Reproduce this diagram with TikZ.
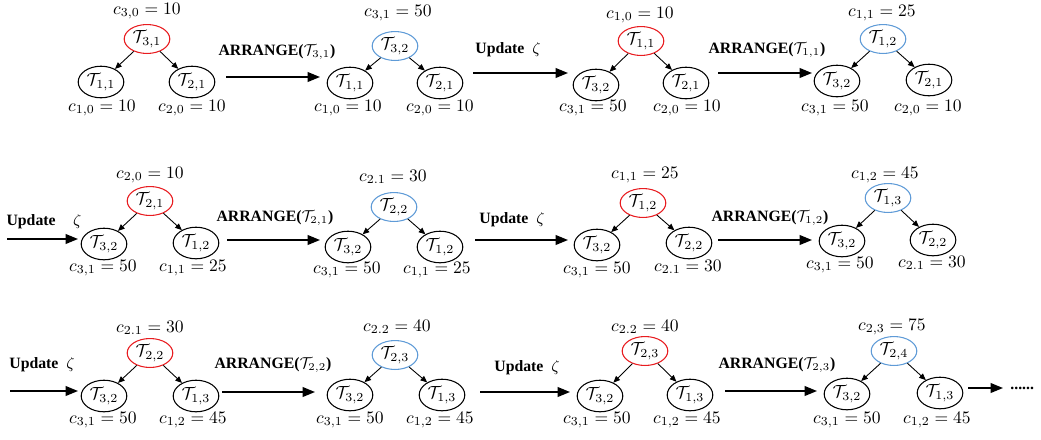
\documentclass[tikz,border=0pt]{standalone}
\usepackage{fontspec}
\newfontfamily\tnr{Liberation Serif}
\usetikzlibrary{shapes.geometric,arrows.meta}
\definecolor{rootred}{RGB}{232,28,32}
\definecolor{rootblue}{RGB}{95,155,215}
\begin{document}
\begin{tikzpicture}[x=0.57pt,y=-0.57pt,
  tnode/.style={ellipse,draw,line width=0.6pt,inner sep=0pt,minimum width=26pt,minimum height=18pt},
  rred/.style={tnode,minimum height=16.5pt,draw=rootred},
  rblue/.style={tnode,minimum height=16.5pt,draw=rootblue},
  cost/.style={inner sep=0pt},
  oplabel/.style={font=\tnr\bfseries\fontsize{9}{10}\selectfont,inner sep=0pt},
  edge/.style={-{Triangle[length=3.8pt,width=3.2pt]},line width=0.5pt},
  bigarrow/.style={-{Triangle[length=7pt,width=5.5pt]},line width=0.9pt}]
\useasboundingbox (0,0) rectangle (1041,439);

% ---------------- Row 1 ----------------
% Tree 1
\node[rred] (t1r) at (147,39) {$\mathcal{T}_{3,1}$};
\node[tnode] (t1l) at (101,82) {$\mathcal{T}_{1,1}$};
\node[tnode] (t1b) at (192,82) {$\mathcal{T}_{2,1}$};
\node[cost] (t1rc) at (147,11) {$c_{3,0}=10$};
\node[cost] (t1lc) at (102,108) {$c_{1,0}=10$};
\node[cost] (t1bc) at (192,108) {$c_{2,0}=10$};
\draw[edge] (t1r) -- (t1l);
\draw[edge] (t1r) -- (t1b);
% Arrow 1
\node[oplabel] (op1) at (277,52) {ARRANGE($\mathcal{T}_{3,1}$)};
\coordinate (a1s) at (226,77); \coordinate (a1e) at (320,77);
\draw[bigarrow] (a1s) -- (a1e);
% Tree 2
\node[rblue] (t2r) at (395,46) {$\mathcal{T}_{3,2}$};
\node[tnode] (t2l) at (350,83) {$\mathcal{T}_{1,1}$};
\node[tnode] (t2b) at (440,83) {$\mathcal{T}_{2,1}$};
\node[cost] (t2rc) at (398,13) {$c_{3,1}=50$};
\node[cost] (t2lc) at (348,108) {$c_{1,0}=10$};
\node[cost] (t2bc) at (440,108) {$c_{2,0}=10$};
\draw[edge] (t2r) -- (t2l);
\draw[edge] (t2r) -- (t2b);
% Arrow 2
\node[oplabel] (op2) at (508,50) {Update\ \ $\zeta$};
\coordinate (a2s) at (473,73); \coordinate (a2e) at (568,73);
\draw[bigarrow] (a2s) -- (a2e);
% Tree 3
\node[rred] (t3r) at (641,41) {$\mathcal{T}_{1,1}$};
\node[tnode] (t3l) at (596,85) {$\mathcal{T}_{3,2}$};
\node[tnode] (t3b) at (686,83) {$\mathcal{T}_{2,1}$};
\node[cost] (t3rc) at (640,15) {$c_{1,0}=10$};
\node[cost] (t3lc) at (593,108) {$c_{3,1}=50$};
\node[cost] (t3bc) at (687,108) {$c_{2,0}=10$};
\draw[edge] (t3r) -- (t3l);
\draw[edge] (t3r) -- (t3b);
% Arrow 3
\node[oplabel] (op3) at (767,50) {ARRANGE($\mathcal{T}_{1,1}$)};
\coordinate (a3s) at (718,73); \coordinate (a3e) at (812,73);
\draw[bigarrow] (a3s) -- (a3e);
% Tree 4
\node[rblue] (t4r) at (883,39) {$\mathcal{T}_{1,2}$};
\node[tnode] (t4l) at (837,81) {$\mathcal{T}_{3,2}$};
\node[tnode] (t4b) at (929,80) {$\mathcal{T}_{2,1}$};
\node[cost] (t4rc) at (882,13) {$c_{1,1}=25$};
\node[cost] (t4lc) at (835,108) {$c_{3,1}=50$};
\node[cost] (t4bc) at (928,108) {$c_{2,0}=10$};
\draw[edge] (t4r) -- (t4l);
\draw[edge] (t4r) -- (t4b);

% ---------------- Row 2 ----------------
% Arrow 4
\node[oplabel] (op4) at (44,222) {Update\hspace{10pt}$\zeta$};
\coordinate (a4s) at (7,239); \coordinate (a4e) at (78,239);
\draw[bigarrow] (a4s) -- (a4e);
% Tree 5
\node[rred] (t5r) at (150,201) {$\mathcal{T}_{2,1}$};
\node[tnode] (t5l) at (104,244) {$\mathcal{T}_{3,2}$};
\node[tnode] (t5b) at (196,243) {$\mathcal{T}_{1,2}$};
\node[cost] (t5rc) at (150,175) {$c_{2,0}=10$};
\node[cost] (t5lc) at (103,268) {$c_{3,1}=50$};
\node[cost] (t5bc) at (193,268) {$c_{1,1}=25$};
\draw[edge] (t5r) -- (t5l);
\draw[edge] (t5r) -- (t5b);
% Arrow 5
\node[oplabel] (op5) at (275,218) {ARRANGE($\mathcal{T}_{2,1}$)};
\coordinate (a5s) at (227,240); \coordinate (a5e) at (320,240);
\draw[bigarrow] (a5s) -- (a5e);
% Tree 6
\node[rblue] (t6r) at (394,207) {$\mathcal{T}_{2,2}$};
\node[tnode] (t6l) at (348,247) {$\mathcal{T}_{3,2}$};
\node[tnode] (t6b) at (440,247) {$\mathcal{T}_{1,2}$};
\node[cost] (t6rc) at (393,177) {$c_{2.1}=30$};
\node[cost] (t6lc) at (347,270) {$c_{3,1}=50$};
\node[cost] (t6bc) at (437,270) {$c_{1,1}=25$};
\draw[edge] (t6r) -- (t6l);
\draw[edge] (t6r) -- (t6b);
% Arrow 6
\node[oplabel] (op6) at (512,220) {Update\ \ $\zeta$};
\coordinate (a6s) at (475,240); \coordinate (a6e) at (568,240);
\draw[bigarrow] (a6s) -- (a6e);
% Tree 7
\node[rred] (t7r) at (643,203) {$\mathcal{T}_{1,2}$};
\node[tnode] (t7l) at (597,245) {$\mathcal{T}_{3,2}$};
\node[tnode] (t7b) at (689,243) {$\mathcal{T}_{2,2}$};
\node[cost] (t7rc) at (645,175) {$c_{1,1}=25$};
\node[cost] (t7lc) at (597,270) {$c_{3,1}=50$};
\node[cost] (t7bc) at (688,267) {$c_{2.1}=30$};
\draw[edge] (t7r) -- (t7l);
\draw[edge] (t7r) -- (t7b);
% Arrow 7
\node[oplabel] (op7) at (770,218) {ARRANGE($\mathcal{T}_{1,2}$)};
\coordinate (a7s) at (718,240); \coordinate (a7e) at (812,240);
\draw[bigarrow] (a7s) -- (a7e);
% Tree 8
\node[rblue] (t8r) at (888,198) {$\mathcal{T}_{1,3}$};
\node[tnode] (t8l) at (842,241) {$\mathcal{T}_{3,2}$};
\node[tnode] (t8b) at (933,240) {$\mathcal{T}_{2,2}$};
\node[cost] (t8rc) at (885,175) {$c_{1,2}=45$};
\node[cost] (t8lc) at (840,265) {$c_{3,1}=50$};
\node[cost] (t8bc) at (932,263) {$c_{2.1}=30$};
\draw[edge] (t8r) -- (t8l);
\draw[edge] (t8r) -- (t8b);

% ---------------- Row 3 ----------------
% Arrow 8
\node[oplabel] (op8) at (42,365) {Update\ \ $\zeta$};
\coordinate (a8s) at (10,391); \coordinate (a8e) at (78,391);
\draw[bigarrow] (a8s) -- (a8e);
% Tree 9
\node[rred] (t9r) at (150,353) {$\mathcal{T}_{2,2}$};
\node[tnode] (t9l) at (104,396) {$\mathcal{T}_{3,2}$};
\node[tnode] (t9b) at (196,396) {$\mathcal{T}_{1,3}$};
\node[cost] (t9rc) at (150,328) {$c_{2.1}=30$};
\node[cost] (t9lc) at (103,420) {$c_{3,1}=50$};
\node[cost] (t9bc) at (193,420) {$c_{1,2}=45$};
\draw[edge] (t9r) -- (t9l);
\draw[edge] (t9r) -- (t9b);
% Arrow 9
\node[oplabel] (op9) at (273,365) {ARRANGE($\mathcal{T}_{2,2}$)};
\coordinate (a9s) at (222,392); \coordinate (a9e) at (315,392);
\draw[bigarrow] (a9s) -- (a9e);
% Tree 10
\node[rblue] (t10r) at (395,355) {$\mathcal{T}_{2,3}$};
\node[tnode] (t10l) at (350,395) {$\mathcal{T}_{3,2}$};
\node[tnode] (t10b) at (442,395) {$\mathcal{T}_{1,3}$};
\node[cost] (t10rc) at (397,327) {$c_{2.2}=40$};
\node[cost] (t10lc) at (350,420) {$c_{3,1}=50$};
\node[cost] (t10bc) at (440,420) {$c_{1,2}=45$};
\draw[edge] (t10r) -- (t10l);
\draw[edge] (t10r) -- (t10b);
% Arrow 10
\node[oplabel] (op10) at (527,368) {Update\ \ $\zeta$};
\coordinate (a10s) at (480,392); \coordinate (a10e) at (570,392);
\draw[bigarrow] (a10s) -- (a10e);
% Tree 11
\node[rred] (t11r) at (645,351) {$\mathcal{T}_{2,3}$};
\node[tnode] (t11l) at (600,396) {$\mathcal{T}_{3,2}$};
\node[tnode] (t11b) at (690,395) {$\mathcal{T}_{1,3}$};
\node[cost] (t11rc) at (645,327) {$c_{2.2}=40$};
\node[cost] (t11lc) at (597,420) {$c_{3,1}=50$};
\node[cost] (t11bc) at (687,420) {$c_{1,2}=45$};
\draw[edge] (t11r) -- (t11l);
\draw[edge] (t11r) -- (t11b);
% Arrow 11
\node[oplabel] (op11) at (777,365) {ARRANGE($\mathcal{T}_{2,3}$)};
\coordinate (a11s) at (725,391); \coordinate (a11e) at (817,391);
\draw[bigarrow] (a11s) -- (a11e);
% Tree 12
\node[rblue] (t12r) at (894,351) {$\mathcal{T}_{2,4}$};
\node[tnode] (t12l) at (847,394) {$\mathcal{T}_{3,2}$};
\node[tnode] (t12b) at (940,393) {$\mathcal{T}_{1,3}$};
\node[cost] (t12rc) at (892,327) {$c_{2,3}=75$};
\node[cost] (t12lc) at (847,420) {$c_{3,1}=50$};
\node[cost] (t12bc) at (937,420) {$c_{1,2}=45$};
\draw[edge] (t12r) -- (t12l);
\draw[edge] (t12r) -- (t12b);
% Final arrow and dots
\node[oplabel,anchor=west] (dots) at (1010,388) {......};
\coordinate (a12s) at (968,388);
\draw[bigarrow,shorten >=4pt] (a12s) -- (dots.west);
\end{tikzpicture}
\end{document}
